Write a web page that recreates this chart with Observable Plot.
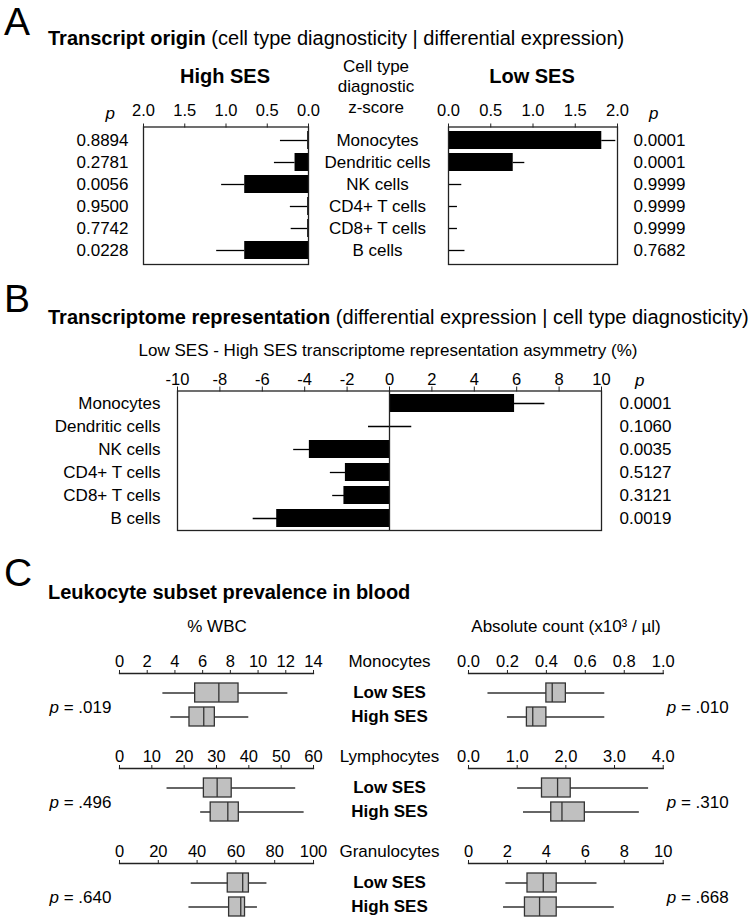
<!DOCTYPE html>
<html>
<head>
<meta charset="utf-8">
<script src="https://cdn.jsdelivr.net/npm/d3@7"></script>
<script src="https://cdn.jsdelivr.net/npm/@observablehq/plot@0.6"></script>
<style>
  html, body { margin: 0; padding: 0; background: #fff; }
  #root { position: relative; width: 754px; height: 923px; overflow: hidden; background: #fff;
          font-family: "Liberation Sans", Arial, sans-serif; color: #000; }
  #root svg { position: absolute; left: 0; }
</style>
</head>
<body>
<div id="root"></div>
<script>
// ---------- Panel A / B data ----------
const cellTypes = ["Monocytes", "Dendritic cells", "NK cells", "CD4+ T cells", "CD8+ T cells", "B cells"];

const highSES_z   = [0.01, 0.163, 0.773, 0.01, 0.01, 0.773];
const highSES_err = [0.33, 0.25, 0.28, 0.21, 0.20, 0.34];
const highSES_p   = ["0.8894", "0.2781", "0.0056", "0.9500", "0.7742", "0.0228"];

const lowSES_z    = [1.814, 0.766, 0, 0, 0, 0];
const lowSES_err  = [0.166, 0.137, 0.157, 0.106, 0.106, 0.195];
const lowSES_p    = ["0.0001", "0.0001", "0.9999", "0.9999", "0.9999", "0.7682"];

const zTicks = [0, 0.5, 1.0, 1.5, 2.0];

const asymmetry     = [5.90, 0.03, -3.78, -2.08, -2.15, -5.32];
const asymmetry_err = [1.43, 1.02, 0.74, 0.71, 0.53, 1.11];
const asymmetry_p   = ["0.0001", "0.1060", "0.0035", "0.5127", "0.3121", "0.0019"];
const asymTicks = [-10, -8, -6, -4, -2, 0, 2, 4, 6, 8, 10];

// ---------- Panel C data ----------
const sesGroups = ["Low SES", "High SES"];
const subsets = ["Monocytes", "Lymphocytes", "Granulocytes"];
// [whisker low, Q1, median, Q3, whisker high]
const pctWBC_low  = [[3.13, 5.46, 7.17, 8.59, 12.15], [14.7, 26.1, 30.2, 34.7, 54.5], [37.0, 55.8, 63.5, 66.7, 76.0]];
const pctWBC_high = [[3.70, 5.05, 6.08, 6.88, 9.33],  [25.1, 28.2, 33.5, 36.9, 57.1], [35.8, 56.5, 62.5, 64.7, 71.1]];
const abs_low     = [[0.10, 0.40, 0.43, 0.50, 0.70], [1.01, 1.51, 1.83, 2.10, 3.70], [1.92, 3.03, 3.84, 4.53, 6.60]];
const abs_high    = [[0.20, 0.30, 0.33, 0.40, 0.70], [1.13, 1.70, 1.92, 2.39, 3.51], [1.80, 2.90, 3.65, 4.53, 7.49]];
const pctWBC_ticks = [[0, 2, 4, 6, 8, 10, 12, 14], [0, 10, 20, 30, 40, 50, 60], [0, 20, 40, 60, 80, 100]];
const abs_ticks    = [[0, 0.2, 0.4, 0.6, 0.8, 1.0], [0, 1, 2, 3, 4], [0, 2, 4, 6, 8, 10]];
const abs_tickFormat = [".1f", ".1f", "d"];
const pctWBC_p = [".019", ".496", ".640"];
const abs_p    = [".010", ".310", ".668"];

// ---------- helpers ----------
const root = document.getElementById("root");
const FONT = '"Liberation Sans", Arial, sans-serif';
const INK = "#222";
const W = 754;
function place(node, top) { node.style.top = top + "px"; root.appendChild(node); }
const baseStyle = {fontFamily: FONT, fontSize: "17px", color: "#000", background: "transparent", overflow: "visible"};

// ---------- annotation overlay (headers, titles) ----------
const ov = d3.create("svg").attr("width", W).attr("height", 923)
  .style("font-family", FONT).style("top", "0px");
function label(x, y, txt, opts = {}) {
  const t = ov.append("text").attr("x", x).attr("y", y)
    .attr("font-size", opts.size || 17)
    .attr("font-weight", opts.weight || "normal")
    .attr("text-anchor", opts.anchor || "start")
    .attr("fill", "#000");
  if (Array.isArray(txt)) txt.forEach(([s, w]) => t.append("tspan").attr("font-weight", w).text(s));
  else t.text(txt);
  return t;
}
label(4, 35, "A", {size: 39});
label(48, 45, [["Transcript origin", "bold"], [" (cell type diagnosticity | differential expression)", "normal"]], {size: 20});
label(225, 83, "High SES", {size: 20, weight: "bold", anchor: "middle"});
label(532, 83, "Low SES", {size: 20, weight: "bold", anchor: "middle"});
label(376, 72, "Cell type", {anchor: "middle"});
label(376, 92, "diagnostic", {anchor: "middle"});
label(376, 113, "z-score", {anchor: "middle"});

label(4, 312, "B", {size: 39});
label(48, 324, [["Transcriptome representation", "bold"], [" (differential expression | cell type diagnosticity)", "normal"]], {size: 20});
label(388, 356, "Low SES - High SES transcriptome representation asymmetry (%)", {anchor: "middle"});

label(4, 586, "C", {size: 39});
label(48, 599, "Leukocyte subset prevalence in blood", {size: 20, weight: "bold"});
label(217, 632, "% WBC", {anchor: "middle"});
label(566, 632, "Absolute count (x10³ / µl)", {anchor: "middle"});
root.appendChild(ov.node());

// ---------- Panel A ----------
const highRows = cellTypes.map((c, i) => ({cell: c, z: highSES_z[i], err: highSES_err[i], p: highSES_p[i]}));
const lowRows  = cellTypes.map((c, i) => ({cell: c, z: lowSES_z[i],  err: lowSES_err[i],  p: lowSES_p[i]}));
const fmt1 = d3.format(".1f");

function panelA(rows, side) {
  const left = side === "high";
  const frameL = left ? 143 : 448, frameR = left ? 308 : 617;
  return Plot.plot({
    width: W, height: 178,
    marginTop: 36.5, marginBottom: 4,
    marginLeft: frameL, marginRight: W - frameR,
    style: baseStyle,
    x: {domain: [0, 2], reverse: left, axis: null},
    y: {domain: cellTypes, paddingInner: 0.2, paddingOuter: 0.1, axis: null},
    marks: [
      Plot.axisX(zTicks, {anchor: "top", tickFormat: fmt1, tickSize: 4, tickPadding: 7, fontSize: 16.5, label: null, stroke: INK}),
      Plot.ruleY(rows, {y: "cell", x1: "z", x2: d => d.z + d.err, stroke: "#000", strokeWidth: 1.3}),
      Plot.barX(rows, {y: "cell", x: "z", fill: "#000"}),
      Plot.frame({stroke: INK, strokeWidth: 1.3}),
      Plot.text(rows, {y: "cell", text: "p", frameAnchor: left ? "left" : "right",
                       dx: left ? -15 : 16, textAnchor: left ? "end" : "start", fontSize: 17}),
      left ? Plot.text(rows, {y: "cell", text: "cell", frameAnchor: "right", dx: 69, textAnchor: "middle", fontSize: 17}) : null,
      Plot.text(["p"], {frameAnchor: left ? "top-left" : "top-right", dx: left ? -38 : 41, dy: -8,
                        lineAnchor: "bottom", fontStyle: "italic", fontSize: 17})
    ]
  });
}
place(panelA(highRows, "high"), 90);
place(panelA(lowRows, "low"), 90);

// ---------- Panel B ----------
const bRows = cellTypes.map((c, i) => ({cell: c, v: asymmetry[i], e: asymmetry_err[i], p: asymmetry_p[i]}));
place(Plot.plot({
  width: W, height: 174,
  marginTop: 30.5, marginBottom: 4,
  marginLeft: 177, marginRight: W - 601,
  style: baseStyle,
  x: {domain: [-10, 10], axis: null},
  y: {domain: cellTypes, paddingInner: 0.2, paddingOuter: 0.1, axis: null},
  marks: [
    Plot.axisX(asymTicks, {anchor: "top", tickFormat: d => String(d), tickSize: 5, tickPadding: 1, fontSize: 16.5, label: null, stroke: INK}),
    Plot.ruleY(bRows, {y: "cell", x1: d => d.v - d.e, x2: d => d.v + d.e, stroke: "#000", strokeWidth: 1.3}),
    Plot.barX(bRows, {y: "cell", x: "v", fill: "#000"}),
    Plot.ruleX([0], {stroke: INK, strokeWidth: 1.3}),
    Plot.frame({stroke: INK, strokeWidth: 1.3}),
    Plot.text(bRows, {y: "cell", text: "cell", frameAnchor: "left", dx: -17, textAnchor: "end", fontSize: 17}),
    Plot.text(bRows, {y: "cell", text: "p", frameAnchor: "right", dx: 18, textAnchor: "start", fontSize: 17}),
    Plot.text(["p"], {frameAnchor: "top-right", dx: 43, dy: -5, lineAnchor: "bottom", fontStyle: "italic", fontSize: 17})
  ]
}), 360);

// ---------- Panel C ----------
function boxRows(lowArr, highArr) {
  return [lowArr, highArr].map((a, j) => ({grp: sesGroups[j], lo: a[0], q1: a[1], med: a[2], q3: a[3], hi: a[4]}));
}
function panelC(i, kind) {
  const left = kind === "pct";
  const rows = left ? boxRows(pctWBC_low[i], pctWBC_high[i]) : boxRows(abs_low[i], abs_high[i]);
  const ticks = left ? pctWBC_ticks[i] : abs_ticks[i];
  const fmt = left ? d3.format("d") : d3.format(abs_tickFormat[i]);
  const pTxt = left ? pctWBC_p[i] : abs_p[i];
  const frameL = left ? 119 : 468, frameR = left ? 313 : 662.7;
  const pdx = left ? -70 : (frameR - frameL) + 3.5;
  return Plot.plot({
    width: W, height: 95,
    marginTop: 30, marginBottom: 1.3,
    marginLeft: frameL, marginRight: W - frameR,
    style: baseStyle,
    x: {domain: [ticks[0], ticks[ticks.length - 1]], axis: null},
    y: {domain: sesGroups, paddingInner: 0.2, paddingOuter: 0.4, axis: null},
    marks: [
      Plot.frame({anchor: "top", stroke: INK, strokeWidth: 1.3}),
      Plot.axisX(ticks, {anchor: "top", tickFormat: fmt, tickSize: 4, tickPadding: 3, fontSize: 16.5, label: null, stroke: INK}),
      Plot.ruleY(rows, {y: "grp", x1: "lo", x2: "hi", stroke: "#333", strokeWidth: 1.3}),
      Plot.barX(rows, {y: "grp", x1: "q1", x2: "q3", fill: "#c0c0c0", stroke: "#333", strokeWidth: 1.3}),
      Plot.tickX(rows, {y: "grp", x: "med", stroke: "#333", strokeWidth: 1.3}),
      left ? Plot.text(rows, {y: "grp", text: "grp", frameAnchor: "right", dx: 76, textAnchor: "middle", fontWeight: "bold", fontSize: 17}) : null,
      left ? Plot.text([subsets[i]], {frameAnchor: "top-right", dx: 76, dy: -7, textAnchor: "middle", lineAnchor: "bottom", fontSize: 17}) : null,
      Plot.text(["p"], {frameAnchor: "left", dx: pdx, dy: 2, textAnchor: "start", fontStyle: "italic", fontSize: 17}),
      Plot.text(["= " + pTxt], {frameAnchor: "left", dx: pdx + 14.2, dy: 2, textAnchor: "start", fontSize: 17})
    ]
  });
}
subsets.forEach((s, i) => {
  const top = 673 + 95 * i - 30;
  place(panelC(i, "pct"), top);
  place(panelC(i, "abs"), top);
});
</script>
</body>
</html>
